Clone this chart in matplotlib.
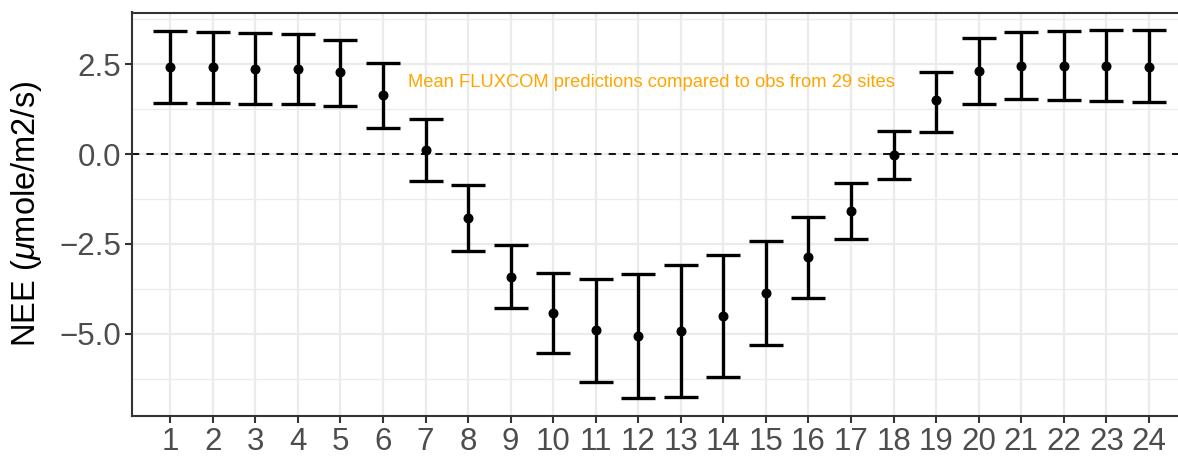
import matplotlib
matplotlib.use("Agg")
import matplotlib.pyplot as plt
from matplotlib.ticker import MultipleLocator
import numpy as np

hours = list(range(1, 25))
nee_mean = [2.42, 2.41, 2.38, 2.36, 2.29, 1.65, 0.11, -1.79, -3.42, -4.42, -4.90, -5.07,
            -4.93, -4.51, -3.86, -2.88, -1.59, -0.03, 1.50, 2.31, 2.46, 2.46, 2.45, 2.43]
nee_upper = [3.43, 3.40, 3.37, 3.35, 3.18, 2.54, 0.98, -0.87, -2.54, -3.31, -3.47, -3.34,
             -3.09, -2.82, -2.43, -1.76, -0.81, 0.64, 2.29, 3.22, 3.40, 3.43, 3.45, 3.45]
nee_lower = [1.41, 1.41, 1.39, 1.38, 1.34, 0.73, -0.75, -2.71, -4.30, -5.55, -6.34, -6.80,
             -6.76, -6.20, -5.31, -4.02, -2.37, -0.70, 0.62, 1.39, 1.52, 1.50, 1.48, 1.44]
y_ticks = [-5.0, -2.5, 0.0, 2.5]
annotation = "Mean FLUXCOM predictions compared to obs from 29 sites"

plt.rcParams['font.family'] = ['Liberation Sans', 'DejaVu Sans']
plt.rcParams['mathtext.fontset'] = 'custom'
plt.rcParams['mathtext.it'] = 'Liberation Sans:italic'
plt.rcParams['mathtext.rm'] = 'Liberation Sans'

fig = plt.figure(figsize=(11.78, 4.59), dpi=100)
ax = fig.add_axes([132/1178, 1 - 415.5/459, 1 - 132/1178 + 0.002, (415.5 - 12.5)/459])

mean = np.array(nee_mean)
yerr = np.vstack([mean - np.array(nee_lower), np.array(nee_upper) - mean])
ax.errorbar(hours, mean, yerr=yerr, fmt='o', color='black', ecolor='black',
            elinewidth=2.4, capsize=12.5, capthick=2.4, markersize=6.2, zorder=3)
ax.axhline(0, color='black', linestyle=(0, (4, 4)), linewidth=1.3, zorder=2)
ax.text(12.3, 1.98, annotation, color='#FFA500', fontsize=13.2, ha='center', va='center')

ax.set_xlim(0.1, 24.74)
ax.set_ylim(-7.28, 3.94)
ax.set_xticks(hours)
ax.set_xticklabels([str(h) for h in hours])
ax.set_yticks(y_ticks)
ax.set_yticklabels([f"{v:.1f}".replace('-', '\u2212') for v in y_ticks])
ax.yaxis.set_minor_locator(MultipleLocator(1.25))

ax.grid(which='major', color='#EBEBEB', linewidth=1.6, zorder=0)
ax.grid(which='minor', axis='y', color='#EBEBEB', linewidth=0.9, zorder=0)
ax.set_axisbelow(True)

for s in ax.spines.values():
    s.set_color('#333333')
    s.set_linewidth(1.5)

ax.tick_params(axis='both', which='major', labelsize=22.5, colors='#4D4D4D',
               length=5, width=1.5, color='#333333', pad=3)
ax.tick_params(axis='y', which='minor', length=0)
ax.set_ylabel(r"NEE ($\mu$mole/m2/s)", fontsize=23.5, color='black', labelpad=11)

fig.savefig("out.png", dpi=100)
